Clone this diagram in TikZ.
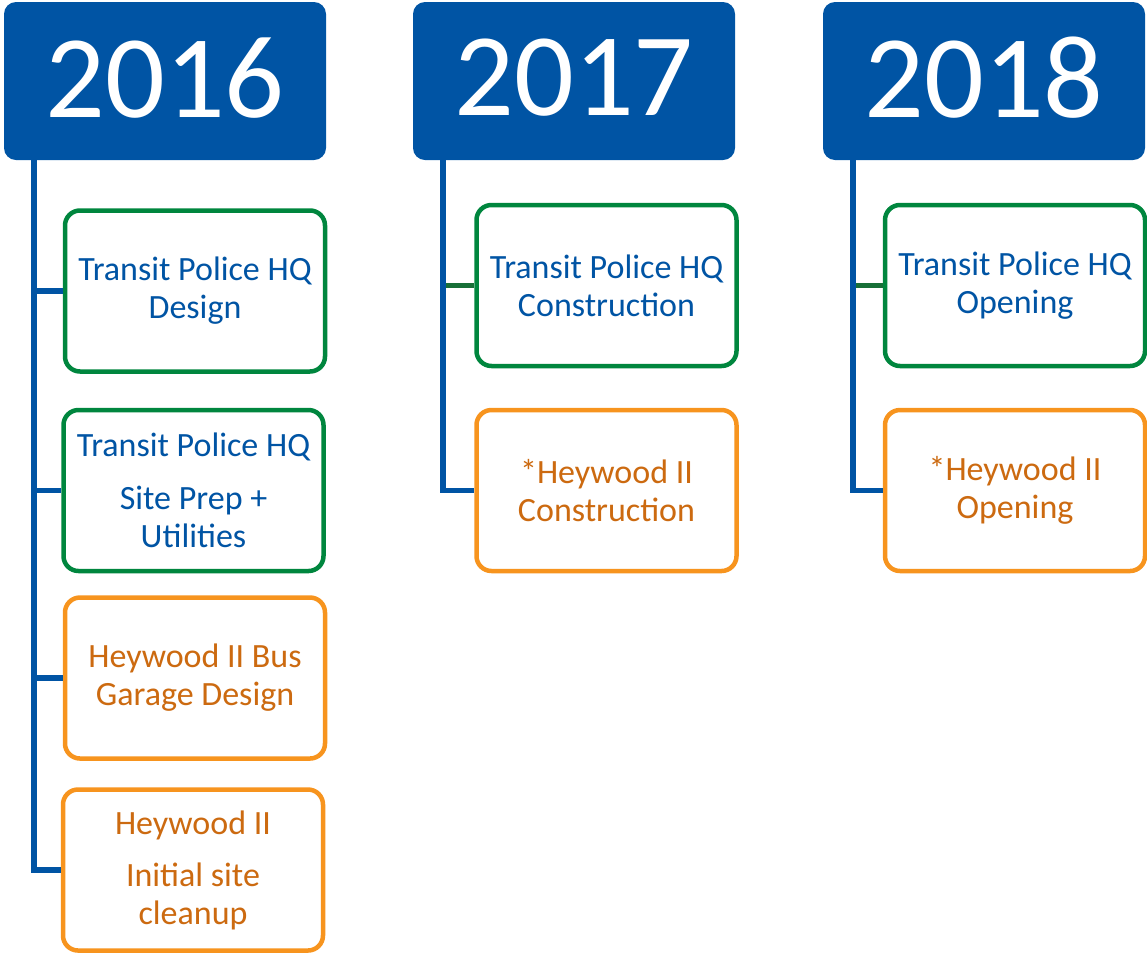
\documentclass[tikz,border=0pt]{standalone}
\usepackage{fontspec}
\setmainfont{Carlito}
\usetikzlibrary{positioning}
\tikzstyle{timeline} = [x = 1pt, y = -1pt]
\definecolor{yearBlue}{RGB}{0,84,164}
\definecolor{taskGreen}{RGB}{0,134,62}
\definecolor{linkGreen}{RGB}{24,112,56}
\definecolor{taskOrange}{RGB}{247,148,30}
\definecolor{textOrange}{RGB}{204,106,16}
\tikzstyle{yearStyle} = [fill=yearBlue, text=white, rounded corners = 12pt, minimum width = 322pt, minimum height = 158pt, inner sep = 0pt, text depth = 7pt, font=\fontsize{118}{120}\selectfont]
\tikzstyle{taskStyle} = [draw, line width = 4.5pt, fill=white, rounded corners = 15pt, minimum width = 260pt, minimum height = 161pt, inner sep = 0pt, align=center, font=\fontsize{34}{38}\selectfont]
\tikzstyle{policeTask} = [taskStyle, draw=taskGreen, text=yearBlue]
\tikzstyle{garageTask} = [taskStyle, draw=taskOrange, text=textOrange]
\tikzstyle{trunkLine} = [draw=yearBlue, line width = 5.5pt]
\tikzstyle{greenLink} = [draw=linkGreen, line width = 5pt]
\newcommand{\yearHeader}[3]{\node [yearStyle] (#1) at (#2, 81) {#3};}
\newcommand{\trunkStart}[2]{\coordinate (#1) at ([xshift = 30pt] #2.south west);}
\newcommand{\taskBox}[5]{\node [#1] (#2) at (#3, #4) {#5};}

\begin{document}
\begin{tikzpicture}[timeline]
  \useasboundingbox (0,0) rectangle (1147,954);
  \yearHeader{y16}{165}{2016}
  \yearHeader{y17}{574}{2017}
  \yearHeader{y18}{984}{2018}
  % 2016
  \taskBox{policeTask}{t16a}{195}{291}{Transit Police HQ\\Design}
  \taskBox{policeTask}{t16b}{193.5}{490.5}{Transit Police HQ\\[15pt]Site Prep +\\Utilities}
  \taskBox{garageTask}{t16c}{195}{678}{Heywood II Bus\\Garage Design}
  \taskBox{garageTask}{t16d}{193}{870}{Heywood II\\[14pt]Initial site\\cleanup}
  % 2017
  \taskBox{policeTask}{t17a}{606.5}{285.5}{Transit Police HQ\\Construction}
  \taskBox{garageTask}{t17b}{606.5}{490.5}{*Heywood II\\Construction}
  % 2018
  \taskBox{policeTask}{t18a}{1015}{285.5}{Transit Police HQ\\Opening}
  \taskBox{garageTask}{t18b}{1015}{490.5}{*Heywood II\\Opening}
  % connectors
  \trunkStart{trunk16}{y16}
  \trunkStart{trunk17}{y17}
  \trunkStart{trunk18}{y18}
  \foreach \task in {t16a,t16b,t16c,t16d} {
    \draw [trunkLine] (trunk16) |- (\task.west);
  }
  \draw [greenLink] (t17a.west) -- (t17a.west -| trunk17);
  \draw [greenLink] (t18a.west) -- (t18a.west -| trunk18);
  \draw [trunkLine] (trunk17) |- (t17b.west);
  \draw [trunkLine] (trunk18) |- (t18b.west);
\end{tikzpicture}
\end{document}
